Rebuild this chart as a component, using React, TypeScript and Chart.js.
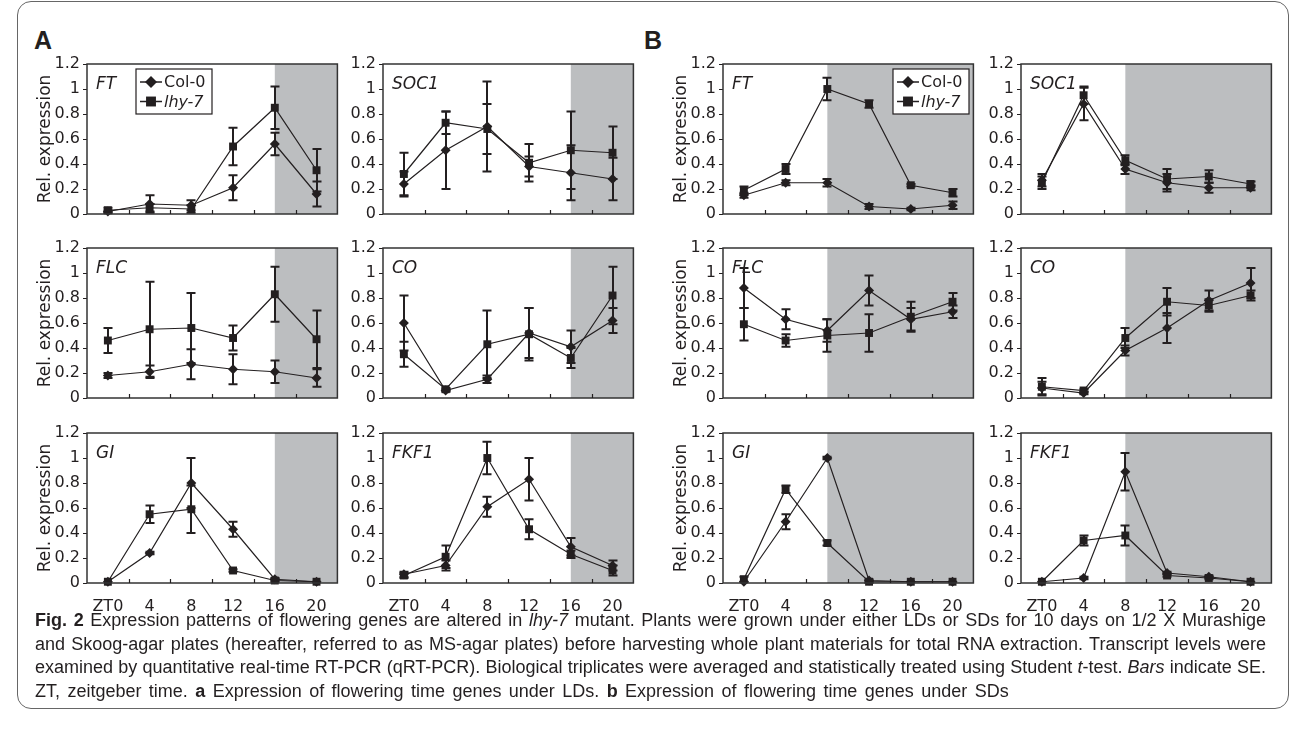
import React, { useEffect, useRef } from 'react';
import { Chart, registerables } from 'chart.js';

Chart.register(...registerables);

// ---------- data ----------
const ztLabels = ['ZT0', '4', '8', '12', '16', '20'];
const seriesNames = ['Col-0', 'lhy-7'];
const yAxisTitle = 'Rel. expression';

// A: long days (dark period from ZT16)
const LD_FT_COL = [0.02, 0.08, 0.07, 0.21, 0.56, 0.16];
const LD_FT_COL_ERR = [0.01, 0.07, 0.04, 0.1, 0.09, 0.1];
const LD_FT_LHY = [0.03, 0.05, 0.04, 0.54, 0.85, 0.35];
const LD_FT_LHY_ERR = [0.02, 0.03, 0.03, 0.15, 0.17, 0.17];

const LD_SOC1_COL = [0.24, 0.51, 0.7, 0.38, 0.33, 0.28];
const LD_SOC1_COL_ERR = [0.1, 0.31, 0.36, 0.08, 0.22, 0.17];
const LD_SOC1_LHY = [0.32, 0.73, 0.68, 0.41, 0.51, 0.49];
const LD_SOC1_LHY_ERR = [0.17, 0.09, 0.2, 0.15, 0.31, 0.21];

const LD_FLC_COL = [0.18, 0.21, 0.27, 0.23, 0.21, 0.16];
const LD_FLC_COL_ERR = [0.02, 0.05, 0.12, 0.12, 0.09, 0.07];
const LD_FLC_LHY = [0.46, 0.55, 0.56, 0.48, 0.83, 0.47];
const LD_FLC_LHY_ERR = [0.1, 0.38, 0.28, 0.1, 0.22, 0.23];

const LD_CO_COL = [0.6, 0.06, 0.15, 0.52, 0.41, 0.62];
const LD_CO_COL_ERR = [0.22, 0.01, 0.03, 0.2, 0.13, 0.1];
const LD_CO_LHY = [0.35, 0.07, 0.43, 0.51, 0.32, 0.82];
const LD_CO_LHY_ERR = [0.1, 0.01, 0.27, 0.21, 0.08, 0.23];

const LD_GI_COL = [0.01, 0.24, 0.8, 0.43, 0.03, 0.01];
const LD_GI_COL_ERR = [0, 0.01, 0.2, 0.06, 0.01, 0];
const LD_GI_LHY = [0.01, 0.55, 0.59, 0.1, 0.02, 0.01];
const LD_GI_LHY_ERR = [0, 0.07, 0.19, 0.01, 0.01, 0];

const LD_FKF1_COL = [0.07, 0.14, 0.61, 0.83, 0.29, 0.14];
const LD_FKF1_COL_ERR = [0.02, 0.04, 0.08, 0.17, 0.07, 0.04];
const LD_FKF1_LHY = [0.06, 0.21, 1.0, 0.43, 0.23, 0.1];
const LD_FKF1_LHY_ERR = [0.02, 0.09, 0.13, 0.08, 0.03, 0.04];

// B: short days (dark period from ZT8)
const SD_FT_COL = [0.15, 0.25, 0.25, 0.06, 0.04, 0.07];
const SD_FT_COL_ERR = [0.02, 0.02, 0.03, 0.02, 0.01, 0.03];
const SD_FT_LHY = [0.19, 0.36, 1.0, 0.88, 0.23, 0.17];
const SD_FT_LHY_ERR = [0.03, 0.04, 0.09, 0.03, 0.01, 0.03];

const SD_SOC1_COL = [0.27, 0.88, 0.36, 0.25, 0.21, 0.21];
const SD_SOC1_COL_ERR = [0.05, 0.13, 0.04, 0.07, 0.04, 0.02];
const SD_SOC1_LHY = [0.25, 0.95, 0.43, 0.28, 0.3, 0.24];
const SD_SOC1_LHY_ERR = [0.05, 0.07, 0.04, 0.08, 0.05, 0.02];

const SD_FLC_COL = [0.88, 0.63, 0.54, 0.86, 0.63, 0.69];
const SD_FLC_COL_ERR = [0.16, 0.08, 0.09, 0.12, 0.09, 0.05];
const SD_FLC_LHY = [0.59, 0.46, 0.5, 0.52, 0.65, 0.77];
const SD_FLC_LHY_ERR = [0.13, 0.05, 0.13, 0.15, 0.12, 0.07];

const SD_CO_COL = [0.08, 0.04, 0.38, 0.56, 0.78, 0.92];
const SD_CO_COL_ERR = [0.05, 0.01, 0.04, 0.12, 0.08, 0.12];
const SD_CO_LHY = [0.09, 0.06, 0.48, 0.77, 0.74, 0.82];
const SD_CO_LHY_ERR = [0.07, 0.01, 0.08, 0.11, 0.05, 0.04];

const SD_GI_COL = [0.01, 0.49, 1.0, 0.02, 0.01, 0.01];
const SD_GI_COL_ERR = [0, 0.06, 0.01, 0.01, 0, 0];
const SD_GI_LHY = [0.03, 0.75, 0.32, 0.01, 0.01, 0.01];
const SD_GI_LHY_ERR = [0.02, 0.03, 0.02, 0.01, 0, 0];

const SD_FKF1_COL = [0.01, 0.04, 0.89, 0.08, 0.05, 0.01];
const SD_FKF1_COL_ERR = [0, 0.01, 0.15, 0.01, 0.01, 0];
const SD_FKF1_LHY = [0.01, 0.34, 0.38, 0.06, 0.04, 0.01];
const SD_FKF1_LHY_ERR = [0, 0.04, 0.08, 0.01, 0.01, 0];

const LD_SHADE_FROM = 4; // index of ZT16
const SD_SHADE_FROM = 2; // index of ZT8

// ---------- layout / style ----------
const AXIS_X = [87, 383, 723, 1021];
const PLOT_TOP = [64, 248, 433];
const PLOT_W = 252;
const PLOT_H = 150;
const Y_AXIS_W = 60;
const PAD_TOP = 14;
const PAD_RIGHT = 4;
const X_AXIS_H = 40;
const INK = '#231f20';
const SHADE = '#bcbec0';
const FONT = 'DejaVu Sans';

type Panel = {
  gene: string;
  col: number[];
  colErr: number[];
  lhy: number[];
  lhyErr: number[];
  shadeFrom: number;
  gx: number;
  gy: number;
  legendAt?: number;
};

const panels: Panel[] = [
  { gene: 'FT', col: LD_FT_COL, colErr: LD_FT_COL_ERR, lhy: LD_FT_LHY, lhyErr: LD_FT_LHY_ERR, shadeFrom: LD_SHADE_FROM, gx: 0, gy: 0, legendAt: 49 },
  { gene: 'SOC1', col: LD_SOC1_COL, colErr: LD_SOC1_COL_ERR, lhy: LD_SOC1_LHY, lhyErr: LD_SOC1_LHY_ERR, shadeFrom: LD_SHADE_FROM, gx: 1, gy: 0 },
  { gene: 'FLC', col: LD_FLC_COL, colErr: LD_FLC_COL_ERR, lhy: LD_FLC_LHY, lhyErr: LD_FLC_LHY_ERR, shadeFrom: LD_SHADE_FROM, gx: 0, gy: 1 },
  { gene: 'CO', col: LD_CO_COL, colErr: LD_CO_COL_ERR, lhy: LD_CO_LHY, lhyErr: LD_CO_LHY_ERR, shadeFrom: LD_SHADE_FROM, gx: 1, gy: 1 },
  { gene: 'GI', col: LD_GI_COL, colErr: LD_GI_COL_ERR, lhy: LD_GI_LHY, lhyErr: LD_GI_LHY_ERR, shadeFrom: LD_SHADE_FROM, gx: 0, gy: 2 },
  { gene: 'FKF1', col: LD_FKF1_COL, colErr: LD_FKF1_COL_ERR, lhy: LD_FKF1_LHY, lhyErr: LD_FKF1_LHY_ERR, shadeFrom: LD_SHADE_FROM, gx: 1, gy: 2 },
  { gene: 'FT', col: SD_FT_COL, colErr: SD_FT_COL_ERR, lhy: SD_FT_LHY, lhyErr: SD_FT_LHY_ERR, shadeFrom: SD_SHADE_FROM, gx: 2, gy: 0, legendAt: 170 },
  { gene: 'SOC1', col: SD_SOC1_COL, colErr: SD_SOC1_COL_ERR, lhy: SD_SOC1_LHY, lhyErr: SD_SOC1_LHY_ERR, shadeFrom: SD_SHADE_FROM, gx: 3, gy: 0 },
  { gene: 'FLC', col: SD_FLC_COL, colErr: SD_FLC_COL_ERR, lhy: SD_FLC_LHY, lhyErr: SD_FLC_LHY_ERR, shadeFrom: SD_SHADE_FROM, gx: 2, gy: 1 },
  { gene: 'CO', col: SD_CO_COL, colErr: SD_CO_COL_ERR, lhy: SD_CO_LHY, lhyErr: SD_CO_LHY_ERR, shadeFrom: SD_SHADE_FROM, gx: 3, gy: 1 },
  { gene: 'GI', col: SD_GI_COL, colErr: SD_GI_COL_ERR, lhy: SD_GI_LHY, lhyErr: SD_GI_LHY_ERR, shadeFrom: SD_SHADE_FROM, gx: 2, gy: 2 },
  { gene: 'FKF1', col: SD_FKF1_COL, colErr: SD_FKF1_COL_ERR, lhy: SD_FKF1_LHY, lhyErr: SD_FKF1_LHY_ERR, shadeFrom: SD_SHADE_FROM, gx: 3, gy: 2 },
];

function drawMarker(ctx: CanvasRenderingContext2D, style: string, x: number, y: number, r: number) {
  ctx.beginPath();
  if (style === 'rectRot') {
    ctx.moveTo(x, y - r);
    ctx.lineTo(x + r, y);
    ctx.lineTo(x, y + r);
    ctx.lineTo(x - r, y);
    ctx.closePath();
  } else {
    const s = r * Math.SQRT1_2;
    ctx.rect(x - s, y - s, 2 * s, 2 * s);
  }
  ctx.fill();
}

function makeDecor(p: Panel) {
  return {
    id: 'panelDecor',
    beforeDatasetsDraw(chart: any) {
      const { ctx, chartArea: a, scales } = chart;
      const x0 = scales.x.getPixelForValue(p.shadeFrom);
      ctx.save();
      ctx.fillStyle = SHADE;
      ctx.fillRect(x0, a.top, a.right - x0, a.bottom - a.top);
      ctx.restore();
    },
    afterDatasetsDraw(chart: any) {
      const { ctx, chartArea: a, scales } = chart;
      const xs = scales.x;
      const ys = scales.y;
      ctx.save();
      // error bars
      ctx.strokeStyle = INK;
      ctx.lineWidth = 2;
      chart.data.datasets.forEach((ds: any) => {
        ds.data.forEach((v: number, j: number) => {
          const e = ds.errors[j];
          if (!e) return;
          const px = Math.round(xs.getPixelForValue(j));
          const yt = ys.getPixelForValue(v + e);
          const yb = ys.getPixelForValue(Math.max(0, v - e));
          ctx.beginPath();
          ctx.moveTo(px, yt);
          ctx.lineTo(px, yb);
          ctx.moveTo(px - 4.5, yt);
          ctx.lineTo(px + 4.5, yt);
          ctx.moveTo(px - 4.5, yb);
          ctx.lineTo(px + 4.5, yb);
          ctx.stroke();
        });
      });
      // frame
      ctx.lineWidth = 1.5;
      ctx.strokeStyle = '#333';
      ctx.strokeRect(a.left, a.top, a.right - a.left, a.bottom - a.top);
      // inner x tick marks between categories
      ctx.lineWidth = 1.2;
      ctx.strokeStyle = INK;
      for (let j = 1; j < ztLabels.length; j++) {
        const bx = Math.round((xs.getPixelForValue(j - 1) + xs.getPixelForValue(j)) / 2) + 0.5;
        ctx.beginPath();
        ctx.moveTo(bx, a.bottom);
        ctx.lineTo(bx, a.bottom - 4);
        ctx.stroke();
      }
      // gene label
      ctx.fillStyle = INK;
      ctx.font = `italic 17px "${FONT}"`;
      ctx.textAlign = 'left';
      ctx.textBaseline = 'alphabetic';
      ctx.fillText(p.gene, a.left + 9, a.top + 25);
      // legend
      if (p.legendAt != null) {
        const bx = a.left + p.legendAt;
        const by = a.top + 5;
        const bw = 76;
        const bh = 45;
        ctx.fillStyle = '#fff';
        ctx.fillRect(bx, by, bw, bh);
        ctx.lineWidth = 1.2;
        ctx.strokeStyle = INK;
        ctx.strokeRect(bx, by, bw, bh);
        chart.data.datasets.forEach((ds: any, i: number) => {
          const ly = by + 13 + i * 19.5;
          ctx.strokeStyle = INK;
          ctx.lineWidth = 1.5;
          ctx.beginPath();
          ctx.moveTo(bx + 4, ly);
          ctx.lineTo(bx + 26, ly);
          ctx.stroke();
          ctx.fillStyle = INK;
          drawMarker(ctx, ds.pointStyle, bx + 15, ly, ds.pointStyle === 'rect' ? 7 : 6);
          ctx.font = `${ds.italicLabel ? 'italic ' : ''}16px "${FONT}"`;
          ctx.textBaseline = 'middle';
          ctx.fillText(ds.label, bx + 28, ly + 1);
        });
      }
      ctx.restore();
    },
  };
}

function PanelChart({ p }: { p: Panel }) {
  const ref = useRef<HTMLCanvasElement | null>(null);
  const showTitle = p.gx === 0 || p.gx === 2;
  const showX = p.gy === 2;
  useEffect(() => {
    if (!ref.current) return;
    const font = { family: FONT, size: 16 };
    const chart = new Chart(ref.current, {
      type: 'line',
      data: {
        labels: ztLabels,
        datasets: [
          {
            label: seriesNames[0],
            data: p.col,
            errors: p.colErr,
            pointStyle: 'rectRot',
            pointRadius: 5,
            pointBackgroundColor: INK,
            pointBorderColor: INK,
            pointBorderWidth: 0,
            borderColor: INK,
            borderWidth: 1.2,
            tension: 0,
            clip: false,
          } as any,
          {
            label: seriesNames[1],
            italicLabel: true,
            data: p.lhy,
            errors: p.lhyErr,
            pointStyle: 'rect',
            pointRadius: 5.6,
            pointBackgroundColor: INK,
            pointBorderColor: INK,
            pointBorderWidth: 0,
            borderColor: INK,
            borderWidth: 1.2,
            tension: 0,
            clip: false,
          } as any,
        ],
      },
      options: {
        responsive: false,
        animation: false,
        devicePixelRatio: 1,
        events: [],
        layout: { padding: { top: PAD_TOP, right: PAD_RIGHT, left: 0, bottom: 0 } },
        plugins: { legend: { display: false }, tooltip: { enabled: false }, title: { display: false } },
        scales: {
          x: {
            type: 'category',
            offset: true,
            grid: { display: false },
            border: { display: false },
            ticks: { display: showX, padding: 6, font, color: INK, maxRotation: 0, autoSkip: false },
            afterFit: (s: any) => {
              s.height = X_AXIS_H;
            },
          },
          y: {
            min: 0,
            max: 1.2,
            ticks: {
              stepSize: 0.2,
              padding: 3,
              font,
              color: INK,
              callback: (v: number) => String(Number(v.toFixed(1))),
            },
            grid: { display: true, drawOnChartArea: false, drawTicks: true, tickLength: 4, color: INK, lineWidth: 1 },
            border: { display: false },
            title: { display: showTitle, text: yAxisTitle, font: { family: FONT, size: 17 }, color: INK, padding: { top: 8, bottom: 0 } },
            afterFit: (s: any) => {
              s.width = Y_AXIS_W;
            },
          },
        },
      } as any,
      plugins: [makeDecor(p)],
    });
    return () => chart.destroy();
  }, [p]);
  return (
    <canvas
      ref={ref}
      width={Y_AXIS_W + PLOT_W + PAD_RIGHT}
      height={PAD_TOP + PLOT_H + X_AXIS_H}
      style={{
        position: 'absolute',
        left: AXIS_X[p.gx] - Y_AXIS_W,
        top: PLOT_TOP[p.gy] - PAD_TOP,
        width: Y_AXIS_W + PLOT_W + PAD_RIGHT,
        height: PAD_TOP + PLOT_H + X_AXIS_H,
      }}
    />
  );
}

const capLine: React.CSSProperties = {
  textAlign: 'justify',
  textAlignLast: 'justify' as any,
  height: 23.6,
  lineHeight: '23.6px',
  whiteSpace: 'normal',
};

export default function App() {
  return (
    <div style={{ position: 'absolute', left: 0, top: 0, width: 1290, height: 732, background: '#fff', overflow: 'hidden' }}>
      <div
        style={{
          position: 'absolute',
          left: 17,
          top: 1,
          width: 1270,
          height: 706,
          border: '1.5px solid #666',
          borderRadius: 14,
        }}
      />
      <div style={{ position: 'absolute', left: 34, top: 26, font: 'bold 25px "Liberation Sans"', color: INK }}>A</div>
      <div style={{ position: 'absolute', left: 644, top: 26, font: 'bold 25px "Liberation Sans"', color: INK }}>B</div>
      {panels.map((p, i) => (
        <PanelChart key={i} p={p} />
      ))}
      <div
        style={{
          position: 'absolute',
          left: 35,
          top: 609,
          width: 1231,
          fontFamily: '"Liberation Sans"',
          fontSize: 18,
          color: INK,
        }}
      >
        <div style={capLine}>
          <b>Fig. 2</b> Expression patterns of flowering genes are altered in <i>lhy-7</i> mutant. Plants were grown under either LDs or SDs for 10 days on 1/2 X Murashige
        </div>
        <div style={capLine}>
          and Skoog-agar plates (hereafter, referred to as MS-agar plates) before harvesting whole plant materials for total RNA extraction. Transcript levels were
        </div>
        <div style={capLine}>
          examined by quantitative real-time RT-PCR (qRT-PCR). Biological triplicates were averaged and statistically treated using Student <i>t</i>-test. <i>Bars</i> indicate SE.
        </div>
        <div style={{ ...capLine, textAlign: 'left', textAlignLast: 'left' as any, wordSpacing: 2.4 }}>
          ZT, zeitgeber time. <b>a</b> Expression of flowering time genes under LDs. <b>b</b> Expression of flowering time genes under SDs
        </div>
      </div>
    </div>
  );
}
